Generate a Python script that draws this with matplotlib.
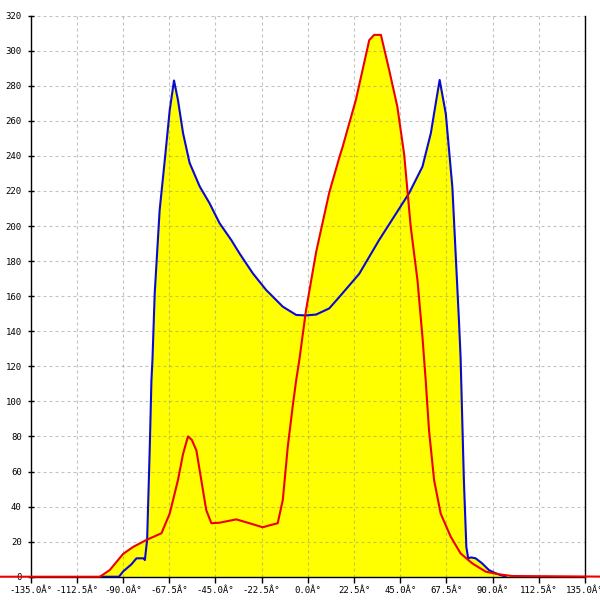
import matplotlib
matplotlib.use("Agg")
import matplotlib.pyplot as plt

# Data
blue_deg = [-101, -92, -90, -86, -83.5, -80, -79.4, -78.3, -77.0, -76.2, -75.7, -74.6, -72.2,
            -69.7, -67.3, -65.2, -63.3, -60.8, -57.6, -52.7, -47.9, -43.0, -37.3, -33.3,
            -26.8, -20.3, -12.2, -5.7, -1, 4.0, 10.4, 15.3, 25, 34.7, 42.9, 49.3, 55.8,
            59.9, 62.3, 64.2, 67.2, 70.4, 72, 73.6, 74.4, 76, 77.2, 78.1, 79.5, 81.7,
            84.9, 88.2, 91.4, 96.3]
blue_val = [0, 0, 3, 7, 10.5, 10.5, 9.5, 21, 74, 112, 123.6, 161.6, 209,
            237.6, 266, 283, 272, 253, 236, 222.6, 213, 201.6, 192, 184.4,
            173, 163.5, 154, 149.3, 149, 149.5, 153, 159.5, 172.7, 192, 207, 218.7, 233.8,
            252.9, 270, 283.3, 264, 222, 184, 146, 125, 55, 17, 10.5, 11, 10.5,
            7.6, 3.8, 2, 0]

red_deg = [-150, -101.3, -96.5, -90, -85.1, -78.6, -71.3, -67.3, -63.3, -60.8, -58.4, -56.5,
           -54.3, -51.9, -49.5, -47, -43, -34.9, -28.4, -22, -18, -14.7, -12.2, -9.8,
           -7.4, -5.7, -4.1, -0.9, 4.0, 10.4, 15.3, 16.9, 23.4, 29.9, 32.3, 35.6, 39.6,
           43.6, 46.9, 50.1, 53.4, 55.8, 57.4, 59, 61.5, 64.7, 69.6, 74.4, 80.1, 86.6,
           93, 99.5, 150]
red_val = [0, 0, 3.8, 13, 17, 21, 24.8, 36, 55, 70, 80, 78,
           72, 55, 38, 30.5, 30.8, 32.7, 30.5, 28.2, 29.5, 30.5, 43.8, 74,
           97, 112, 124, 152, 185, 219, 239, 245, 272, 306, 309, 309, 289,
           268, 241, 199.6, 169, 137, 112, 83.7, 55, 36, 22.8, 13.3, 7.6, 2.9,
           1.4, 0.4, 0]

x_ticks = [-135.0, -112.5, -90.0, -67.5, -45.0, -22.5, 0.0, 22.5, 45.0, 67.5, 90.0, 112.5, 135.0]
y_ticks = list(range(0, 321, 20))
x_labels = [f"{v:.1f}Â°" for v in x_ticks]

fig = plt.figure(figsize=(6, 6), dpi=100)
ax = fig.add_axes([0.0512, 0.0388, 0.975 - 0.0512, 0.974 - 0.0388])

ax.fill_between(blue_deg, 0, blue_val, color="#ffff00", linewidth=0, zorder=1)
ax.fill_between(red_deg, 0, red_val, color="#ffff00", linewidth=0, zorder=1)

ax.plot(blue_deg, blue_val, color="#0a0ad0", linewidth=1.5, zorder=3)
ax.plot(red_deg, red_val, color="#ee0000", linewidth=1.5, zorder=3.1, clip_on=False)

ax.set_xlim(-135, 135)
ax.set_ylim(0, 320)
ax.set_xticks(x_ticks)
ax.set_xticklabels(x_labels)
ax.set_yticks(y_ticks)

ax.set_axisbelow('line')
ax.grid(True, color="#909090", alpha=0.55, linestyle=(0, (2.7, 2.7)), linewidth=0.8)

ax.spines['top'].set_visible(False)
for s in ['left', 'right', 'bottom']:
    ax.spines[s].set_color('black')
    ax.spines[s].set_linewidth(1.0)

ax.tick_params(axis='y', direction='inout', length=5, width=1, pad=4,
               labelsize=6.5, right=False)
ax.tick_params(axis='x', direction='out', length=4, width=1, pad=3,
               labelsize=6.5, top=False)
for lab in ax.get_xticklabels() + ax.get_yticklabels():
    lab.set_family('DejaVu Sans Mono')

fig.savefig("out.png", dpi=100)
